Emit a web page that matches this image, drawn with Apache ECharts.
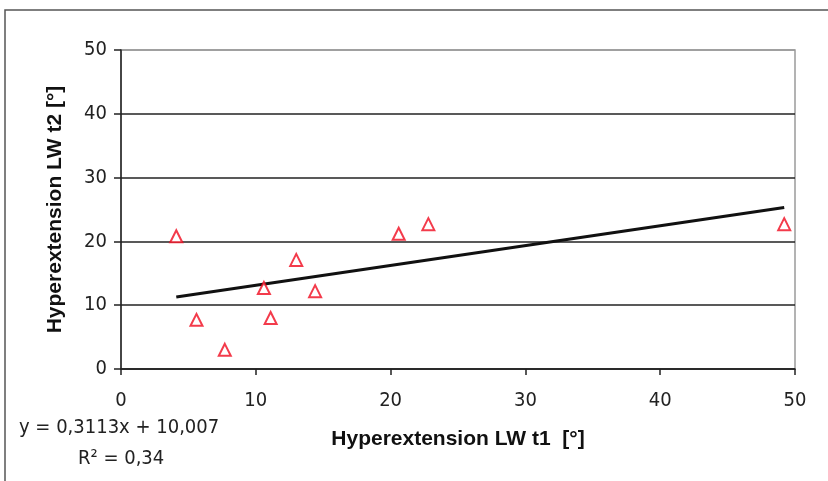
<!DOCTYPE html>
<html><head><meta charset="utf-8">
<script src="https://cdn.jsdelivr.net/npm/echarts@6/dist/echarts.min.js"></script>
<style>html,body{margin:0;padding:0;background:#fff}#c{width:828px;height:481px}</style>
</head><body><div id="c"></div>
<script>
const xValues = [4.1, 5.6, 7.7, 10.6, 11.1, 13.0, 14.4, 20.6, 22.8, 49.2];
const yValues = [20.8, 7.7, 3.0, 12.7, 8.0, 17.1, 12.2, 21.2, 22.7, 22.7];
const trendX = [4.1, 49.2];
const trendY = [11.3, 25.3];
const xTicks = [0, 10, 20, 30, 40, 50];
const yTicks = [0, 10, 20, 30, 40, 50];
const xTitle = 'Hyperextension LW t1  [°]';
const yTitle = 'Hyperextension LW t2 [°]';
const eqText = 'y = 0,3113x + 10,007';
const r2Text = 'R² = 0,34';

const narrow = "'Liberation Sans Narrow','Arial Narrow','DejaVu Sans Condensed',sans-serif";
const sans = "'Liberation Sans',Arial,sans-serif";

const chart = echarts.init(document.getElementById('c'), null, {renderer:'canvas'});
chart.setOption({
  animation:false,
  backgroundColor:'#fff',
  grid:{left:121,right:33,top:50,bottom:112,show:true,borderColor:'#9a9a9a',borderWidth:1.5,backgroundColor:'transparent'},
  xAxis:{
    type:'value',min:xTicks[0],max:xTicks[xTicks.length-1],interval:10,
    name:xTitle,nameLocation:'middle',nameGap:60,
    nameTextStyle:{fontFamily:sans,fontWeight:'bold',fontSize:21,color:'#111'},
    axisLine:{show:true,lineStyle:{color:'#222',width:1.5}},
    axisTick:{show:true,length:6,inside:false,lineStyle:{color:'#222',width:1.5}},
    axisLabel:{fontFamily:narrow,fontSize:20,color:'#222',margin:22},
    splitLine:{show:false}
  },
  yAxis:{
    type:'value',min:yTicks[0],max:yTicks[yTicks.length-1],interval:10,
    name:yTitle,nameLocation:'middle',nameGap:55,nameRotate:90,
    nameTextStyle:{fontFamily:sans,fontWeight:'bold',fontSize:21,color:'#111'},
    axisLine:{show:true,lineStyle:{color:'#222',width:1.5}},
    axisTick:{show:true,length:7,lineStyle:{color:'#222',width:1.5}},
    axisLabel:{fontFamily:narrow,fontSize:20,color:'#222',margin:14},
    splitLine:{show:true,lineStyle:{color:['#222','#222','#222','#222','#222','#9a9a9a'],width:1.5}}
  },
  series:[
    {type:'line',data:trendX.map((x,i)=>[x,trendY[i]]),symbol:'none',
     lineStyle:{color:'#111',width:3},z:3},
    {type:'scatter',data:xValues.map((x,i)=>[x,yValues[i]]),symbol:'triangle',symbolSize:12,
     itemStyle:{color:'#fff',borderColor:'#f00a1e',borderWidth:2},z:4}
  ],
  graphic:[
    {type:'rect',shape:{x:5,y:10,width:840,height:490},style:{fill:'none',stroke:'#555',lineWidth:1.5},silent:true},
    {type:'text',left:19,top:418,style:{text:eqText,font:"20px "+narrow,fill:'#222'}},
    {type:'text',left:78,top:449,style:{text:r2Text,font:"20px "+narrow,fill:'#222'}}
  ]
});
</script></body></html>
